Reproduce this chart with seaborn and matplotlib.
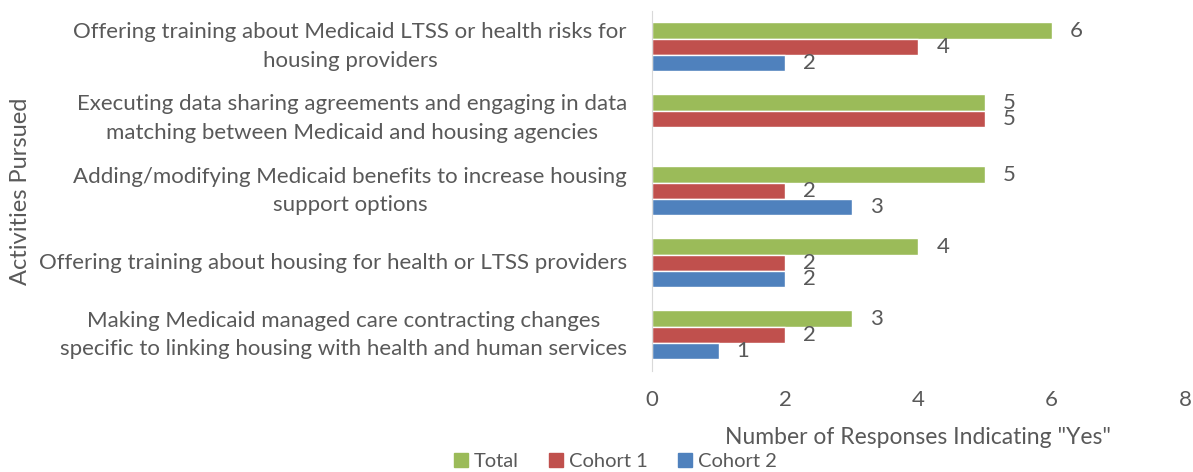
import matplotlib
matplotlib.use("Agg")
import matplotlib.pyplot as plt
import pandas as pd
import seaborn as sns

activities = [
    "Offering training about Medicaid LTSS or health risks for\nhousing providers",
    "Executing data sharing agreements and engaging in data\nmatching between Medicaid and housing agencies",
    "Adding/modifying Medicaid benefits to increase housing\nsupport options",
    "Offering training about housing for health or LTSS providers",
    "Making Medicaid managed care contracting changes\nspecific to linking housing with health and human services",
]
series = ["Total", "Cohort 1", "Cohort 2"]
total = [6, 5, 5, 4, 3]
cohort1 = [4, 5, 2, 2, 2]
cohort2 = [2, 0, 3, 2, 1]
colors = ["#9BBB59", "#C0504D", "#4F81BD"]

df = pd.DataFrame({
    "activity": activities * 3,
    "series": [s for s in series for _ in activities],
    "count": total + cohort1 + cohort2,
})

sns.set_style("white")
plt.rcParams["font.family"] = ["Lato", "DejaVu Sans"]
grey = "#595959"

fig = plt.figure(figsize=(11.93, 4.72), dpi=100)
ax = fig.add_axes([0.5465, 0.214, 0.4468, 0.763])
sns.barplot(data=df, x="count", y="activity", hue="series", order=activities,
            hue_order=series, palette=colors, orient="h", width=0.68,
            saturation=1, ax=ax, legend=True)

for cont in ax.containers:
    labels = [f"{v:g}" if v > 0 else "" for v in cont.datavalues]
    ax.bar_label(cont, labels=labels, padding=13, fontsize=16, color=grey)

ax.set_xlim(0, 8)
ax.set_xticks([0, 2, 4, 6, 8])
ax.tick_params(axis="x", length=0, pad=14, labelsize=16, labelcolor=grey)
ax.tick_params(axis="y", length=0, pad=18, labelsize=16, labelcolor=grey)
ax.set_yticks(range(len(activities)))
ax.set_yticklabels(activities, multialignment="center", linespacing=1.55, va="center")
ax.set_xlabel('Number of Responses Indicating "Yes"', fontsize=16.5, color=grey, labelpad=12)
ax.set_ylabel("Activities Pursued", fontsize=17, color=grey)
ax.yaxis.set_label_coords(-1.165, 0.5)
for side in ["top", "right", "bottom"]:
    ax.spines[side].set_visible(False)
ax.spines["left"].set_color("#D9D9D9")

ax.get_legend().remove()
handles = [plt.Rectangle((0, 0), 1, 1, color=c) for c in colors]
fig.legend(handles, series, loc="center", bbox_to_anchor=(0.516, 0.023), ncol=3,
           frameon=False, fontsize=14.5, handlelength=0.7, handleheight=0.7,
           handletextpad=0.3, columnspacing=1.5, labelcolor=grey)

fig.savefig("out.png", dpi=100)
